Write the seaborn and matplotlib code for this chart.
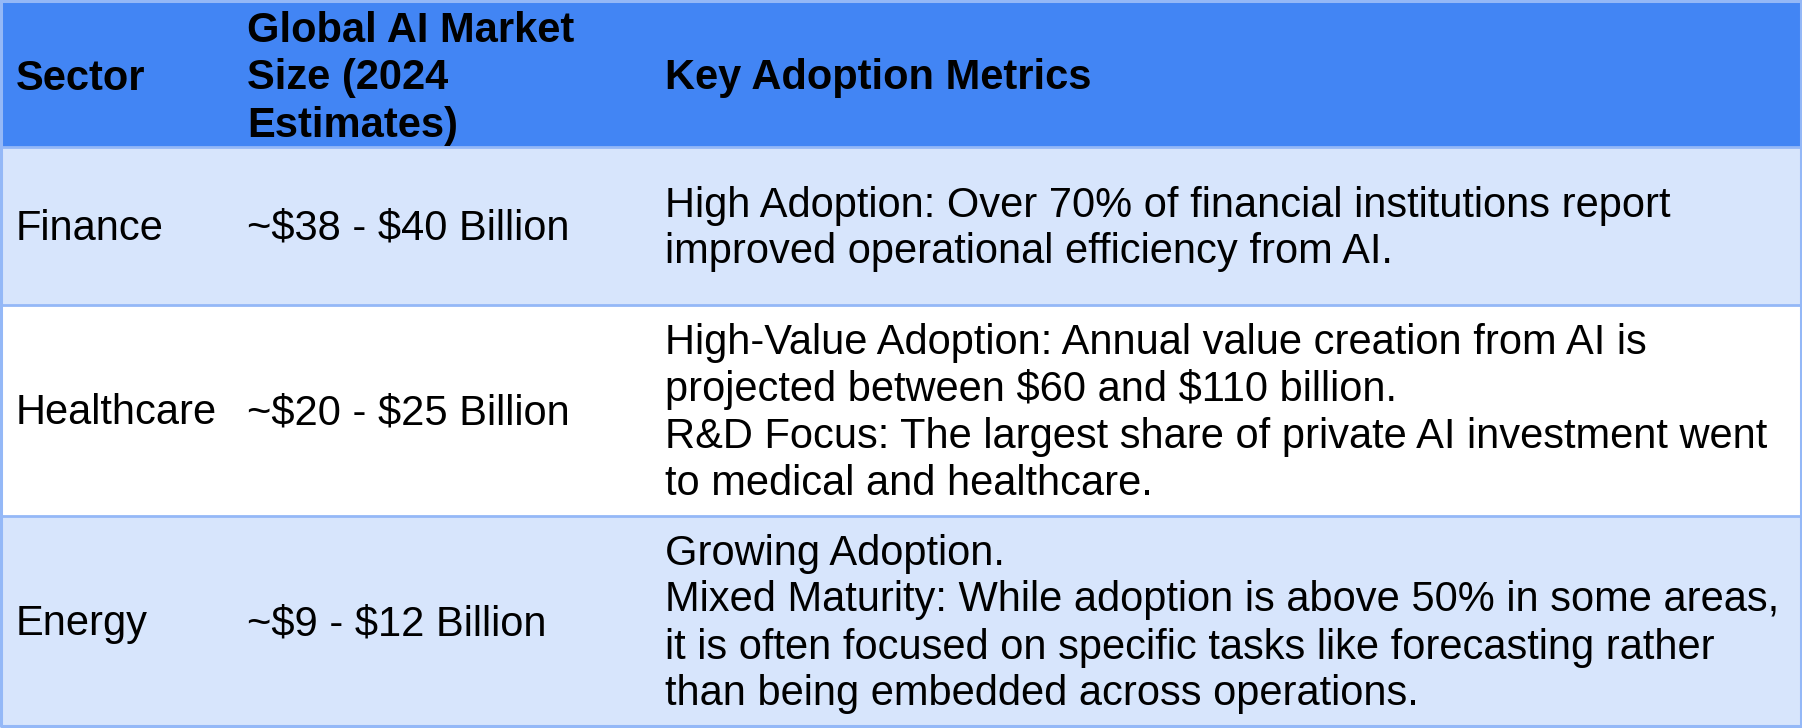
import matplotlib
matplotlib.use("Agg")
import matplotlib.pyplot as plt
import seaborn as sns

# table content
headers = [["Sector"], ["Global AI Market", "Size (2024", "Estimates)"], ["Key Adoption Metrics"]]
sectors = ["Finance", "Healthcare", "Energy"]
market_sizes = ["~$38 - $40 Billion", "~$20 - $25 Billion", "~$9 - $12 Billion"]
metrics = [
    ["High Adoption: Over 70% of financial institutions report",
     "improved operational efficiency from AI."],
    ["High-Value Adoption: Annual value creation from AI is",
     "projected between $60 and $110 billion.",
     "R&D Focus: The largest share of private AI investment went",
     "to medical and healthcare."],
    ["Growing Adoption.",
     "Mixed Maturity: While adoption is above 50% in some areas,",
     "it is often focused on specific tasks like forecasting rather",
     "than being embedded across operations."],
]

sns.set_theme(style="white")
plt.rcParams['font.family'] = ['Liberation Sans', 'DejaVu Sans']

W, H = 1802, 728
fig = plt.figure(figsize=(W / 100, H / 100), dpi=100)
ax = fig.add_axes([0, 0, 1, 1])
ax.set_xlim(0, W)
ax.set_ylim(H, 0)
ax.axis('off')

header_col = "#4285f4"
band_col = "#d7e5fc"
line_col = "#94b8f7"
fs = 30
pitch = 47
col_x = [16, 247, 665]
row_edges = [0, 147, 305, 516, 726]
row_fill = [header_col, band_col, "white", band_col]

for i, fill in enumerate(row_fill):
    ax.axhspan(row_edges[i], row_edges[i + 1], color=fill, lw=0, zorder=0)

# borders
for y in row_edges[1:-1]:
    ax.axhline(y, color=line_col, lw=2, zorder=2)
ax.plot([1, W - 1, W - 1, 1, 1], [1, 1, H - 2, H - 2, 1], color=line_col, lw=2.2, zorder=2)


def cell(x, top, bottom, lines, bold=False, off=14):
    mid = (top + bottom) / 2
    n = len(lines)
    for k, s in enumerate(lines):
        y = mid + off + (k - (n - 1) / 2) * pitch
        ax.text(x, y, s, fontsize=fs, ha='left', va='baseline', color='black',
                fontweight='bold' if bold else 'normal', zorder=3, parse_math=False)


for c, lines in enumerate(headers):
    cell(col_x[c], row_edges[0], row_edges[1], lines, bold=True, off=16)

for r in range(len(sectors)):
    top, bottom = row_edges[r + 1], row_edges[r + 2]
    cell(col_x[0], top, bottom, [sectors[r]])
    cell(col_x[1], top, bottom, [market_sizes[r]])
    cell(col_x[2], top, bottom, metrics[r])

fig.savefig("out.png", dpi=100)
